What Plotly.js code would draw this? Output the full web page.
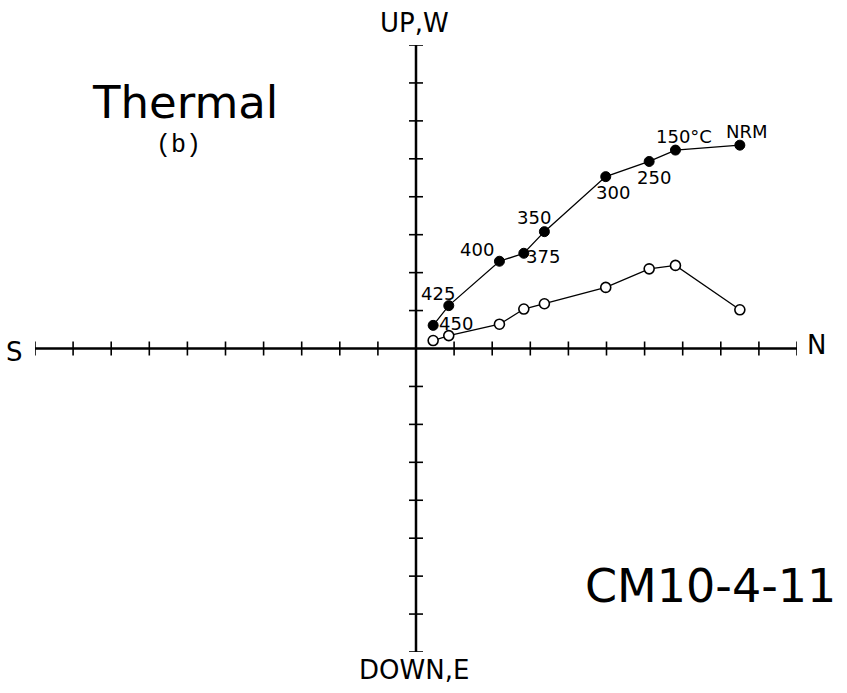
<!DOCTYPE html>
<html>
<head>
<meta charset="utf-8">
<script src="https://cdn.plot.ly/plotly-3.0.1.min.js"></script>
<style>html,body{margin:0;padding:0;background:#fff;}#chart{width:847px;height:693px;}</style>
</head>
<body>
<div id="chart"></div>
<script>
// Step labels (thermal demagnetization)
const steps = ["NRM", "150°C", "250", "300", "350", "375", "400", "425", "450"];
// North component (horizontal axis, both projections share it)
const northH = [8.50, 6.81, 6.12, 4.98, 3.37, 2.83, 2.19, 0.86, 0.45];
// Up/West components
const upVertical = [5.36, 5.23, 4.93, 4.53, 3.08, 2.51, 2.30, 1.13, 0.61];   // filled (vertical projection)
const westHoriz  = [1.02, 2.19, 2.10, 1.61, 1.18, 1.04, 0.64, 0.34, 0.21];   // open (horizontal projection)
// Axis tick positions
const ticksNS = [-10,-9,-8,-7,-6,-5,-4,-3,-2,-1,1,2,3,4,5,6,7,8,9,10];
const ticksUD = [-8,-7,-6,-5,-4,-3,-2,-1,1,2,3,4,5,6,7,8];
// label offsets (px)
const labelDX = [7, 9, 5, 7, -10, 19, -22, -11, 23];
const labelDY = [14, 14, -16, -16, 14, -3, 12, 12, 2];

const F = "DejaVu Sans, Open Sans, sans-serif";
const traces = [
  {x:[-10,10], y:[0,0], mode:"lines", line:{color:"#000", width:2.5}, hoverinfo:"skip"},
  {x:[0,0], y:[-8,8], mode:"lines", line:{color:"#000", width:2.5}, hoverinfo:"skip"},
  {x:ticksNS, y:ticksNS.map(()=>0), mode:"markers", marker:{symbol:"line-ns", size:10, line:{color:"#000", width:1.6}}, hoverinfo:"skip"},
  {x:ticksUD.map(()=>0), y:ticksUD, mode:"markers", marker:{symbol:"line-ew", size:10, line:{color:"#000", width:1.6}}, hoverinfo:"skip"},
  {x:northH, y:westHoriz, mode:"lines+markers", line:{color:"#000", width:1.3},
   marker:{symbol:"circle", size:10, color:"#fff", line:{color:"#000", width:1.6}}},
  {x:northH, y:upVertical, mode:"lines+markers", line:{color:"#000", width:1.3},
   marker:{symbol:"circle", size:10, color:"#000", line:{color:"#000", width:1}}}
];

const annotations = steps.map((s,i)=>({
  x:northH[i], y:upVertical[i], xref:"x", yref:"y", text:s, showarrow:false,
  xshift:labelDX[i], yshift:labelDY[i], font:{family:F, size:18, color:"#000"}
}));
const paperText = [
  {text:"Thermal", x:0.197, y:0.905, size:45},
  {text:"(b)", x:0.188, y:0.834, size:25, family:"Liberation Mono, DejaVu Sans Mono, monospace"},
  {text:"CM10-4-11", x:0.886, y:0.108, size:46},
  {text:"UP,W", x:0.498, y:1.037, size:26},
  {text:"DOWN,E", x:0.498, y:-0.030, size:26},
  {text:"S", x:-0.027, y:0.495, size:26},
  {text:"N", x:1.025, y:0.505, size:26}
];
paperText.forEach(t=>annotations.push({
  text:t.text, x:t.x, y:t.y, xref:"paper", yref:"paper", showarrow:false,
  xanchor:"center", yanchor:"middle", font:{family:t.family||F, size:t.size, color:"#000"}
}));

const layout = {
  width:847, height:693,
  margin:{l:35, r:50, t:45, b:41},
  paper_bgcolor:"#fff", plot_bgcolor:"#fff",
  showlegend:false,
  xaxis:{range:[-10,10], visible:false, fixedrange:true},
  yaxis:{range:[-8,8], visible:false, fixedrange:true},
  annotations:annotations
};
Plotly.newPlot("chart", traces, layout, {displayModeBar:false, staticPlot:true});
</script>
</body>
</html>
